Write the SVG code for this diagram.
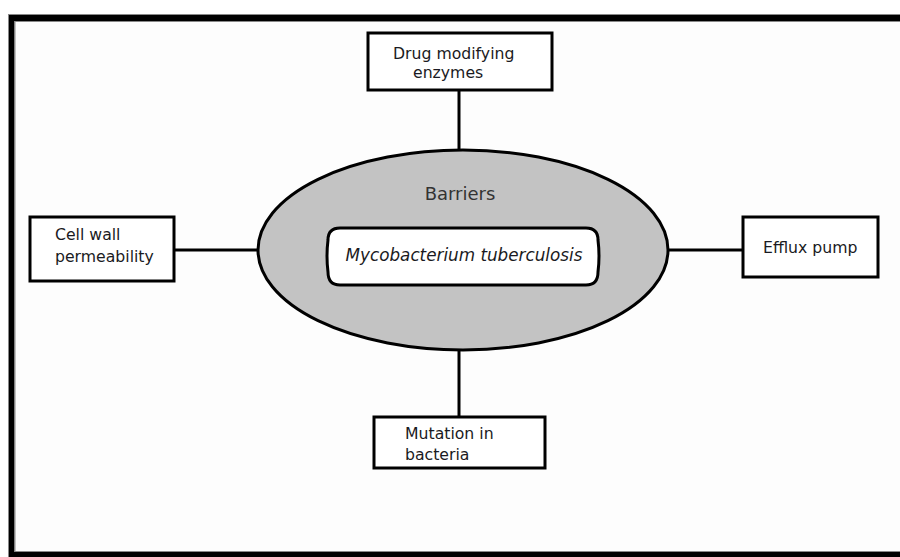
<svg xmlns="http://www.w3.org/2000/svg" width="900" height="557" viewBox="0 0 900 557">
<style>
.box{fill:#fff;stroke:#000;stroke-width:3}
.ln{stroke:#000;stroke-width:3;fill:none}
.t{font-family:"DejaVu Sans",Verdana,sans-serif;font-size:15.7px;fill:#1a1a22}
</style>
<rect x="0" y="0" width="900" height="557" fill="#fff"/>
<g id="frame">
<rect x="11.5" y="18" width="895" height="537" fill="#fdfdfd" stroke="#000" stroke-width="6"/>
<rect x="8.5" y="14.5" width="900" height="545" fill="none" stroke="#888" stroke-width="1"/>
<rect x="15" y="21.5" width="890" height="530" fill="none" stroke="#888" stroke-width="1"/>
</g>
<g id="connectors">
<line class="ln" x1="459" y1="90" x2="459" y2="152"/>
<line class="ln" x1="174" y1="250" x2="259" y2="250"/>
<line class="ln" x1="667" y1="250" x2="743" y2="250"/>
<line class="ln" x1="459" y1="348" x2="459" y2="417"/>
</g>
<g id="barriers">
<ellipse cx="463" cy="250" rx="205" ry="100" fill="#c3c3c3" stroke="#000" stroke-width="3"/>
<text class="t" x="460" y="200" text-anchor="middle" style="font-size:18px;fill:#333">Barriers</text>
</g>
<g id="mtb">
<path d="M340,228 L586,228 Q598,228 598,240 Q600,256 598,272 Q598,285 586,285 L340,285 Q328,285 328,272 Q326,256 328,240 Q328,228 340,228 Z" fill="#fff" stroke="#000" stroke-width="3"/>
<text class="t" x="464" y="261" text-anchor="middle" font-style="italic" style="font-size:16.8px">Mycobacterium tuberculosis</text>
</g>
<g id="drug">
<rect class="box" x="368" y="33" width="184" height="57"/>
<text class="t" x="393" y="59">Drug modifying</text>
<text class="t" x="413" y="78">enzymes</text>
</g>
<g id="cellwall">
<rect class="box" x="30" y="217" width="144" height="64"/>
<text class="t" x="55" y="240">Cell wall</text>
<text class="t" x="55" y="262">permeability</text>
</g>
<g id="efflux">
<rect class="box" x="743" y="217" width="135" height="60"/>
<text class="t" x="763" y="253">Efflux pump</text>
</g>
<g id="mutation">
<rect class="box" x="374" y="417" width="171" height="51"/>
<text class="t" x="405" y="439">Mutation in</text>
<text class="t" x="405" y="460">bacteria</text>
</g>
</svg>
